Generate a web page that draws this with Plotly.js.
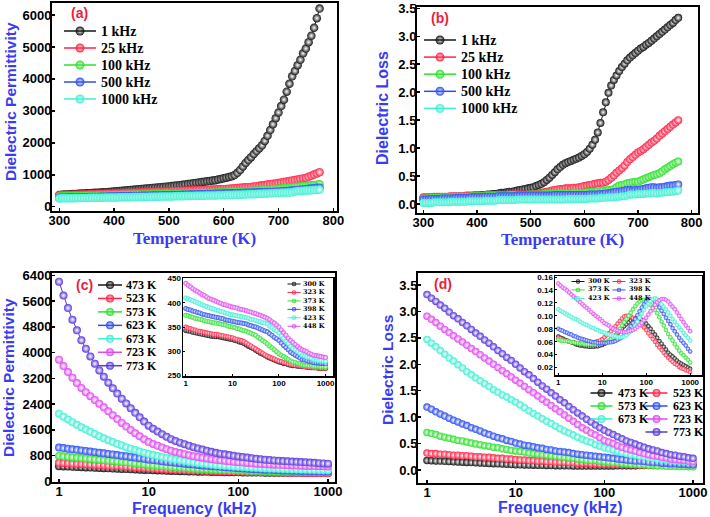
<!DOCTYPE html>
<html><head><meta charset="utf-8">
<script src="https://cdn.plot.ly/plotly-3.0.1.min.js"></script>
<style>html,body{margin:0;padding:0;background:#fff;overflow:hidden}</style>
</head><body>
<div id="plot" style="width:710px;height:517px"></div>
<script>
// ---------------- DATA ----------------
const temperatureK = [300,305,310,315,320,325,330,335,340,345,350,355,360,365,370,375,380,385,390,395,400,405,410,415,420,425,430,435,440,445,450,455,460,465,470,475,480,485,490,495,500,505,510,515,520,525,530,535,540,545,550,555,560,565,570,575,580,585,590,595,600,605,610,615,620,625,630,635,640,645,650,655,660,665,670,675,680,685,690,695,700,705,710,715,720,725,730,735,740,745,750,755,760,765,770,775];
const freqLabels = ['1 kHz','25 kHz','100 kHz','500 kHz','1000 kHz'];

// (a) dielectric permittivity vs temperature
const permA_1kHz = [370,375,380,385,390,395,400,405,410,415,420,425,430,435,440,445,450,455,460,468,476,484,492,500,508,516,524,532,540,548,556,564,572,580,588,596,604,612,620,628,636,645,655,665,675,686,698,710,722,734,746,758,770,782,794,806,818,830,850,870,890,910,930,955,990,1060,1150,1260,1370,1460,1550,1650,1740,1830,1920,2060,2220,2400,2580,2770,2950,3150,3350,3600,3850,4080,4250,4430,4600,4800,4950,5150,5350,5600,5900,6200];
const permA_25kHz = [360,363,365,368,370,373,375,378,380,383,385,388,390,393,395,398,400,403,405,408,410,414,417,421,424,428,431,435,438,442,445,449,452,456,459,463,466,470,473,477,480,484,487,491,494,498,501,505,508,512,515,519,522,526,529,533,536,540,543,547,550,557,564,571,578,585,592,599,606,613,620,632,644,656,668,680,692,704,716,728,740,756,772,788,804,820,836,852,868,884,900,935,970,1005,1040,1080];
const permA_100kHz = [320,322,324,326,328,330,332,334,336,338,340,342,344,346,348,350,352,354,356,358,360,362,364,366,368,370,372,374,376,378,380,382,384,386,388,390,392,394,396,398,400,403,405,408,410,413,415,418,420,423,425,428,430,433,435,438,440,443,445,448,450,454,458,462,466,470,474,478,482,486,490,497,504,511,518,525,532,539,546,553,560,569,578,587,596,605,614,623,632,641,650,660,670,680,690,705];
const permA_500kHz = [280,282,284,286,288,290,292,294,296,298,300,302,304,306,308,310,312,314,316,318,320,322,324,326,328,330,332,334,336,338,340,342,344,346,348,350,352,354,356,358,360,363,365,368,370,373,375,378,380,383,385,388,390,393,395,398,400,403,405,408,410,413,416,419,422,425,428,431,434,437,440,443,446,449,452,455,458,461,464,467,470,478,486,494,502,510,518,526,534,542,550,560,570,580,590,590];
const permA_1000kHz = [260,262,263,265,266,268,269,271,272,274,275,277,278,280,281,283,284,286,287,289,290,292,293,295,296,298,299,301,302,304,305,307,308,310,311,313,314,316,317,319,320,322,324,326,328,330,332,334,336,338,340,342,344,346,348,350,352,354,356,358,360,363,366,369,372,375,378,381,384,387,390,394,398,402,406,410,414,418,422,426,430,434,438,442,446,450,475,490,495,500,505,510,515,520,525,530];

// (b) dielectric loss vs temperature
const lossB_1kHz = [0.10,0.10,0.10,0.10,0.11,0.11,0.11,0.11,0.12,0.12,0.12,0.12,0.13,0.13,0.13,0.13,0.14,0.14,0.14,0.15,0.15,0.15,0.16,0.16,0.17,0.17,0.18,0.18,0.19,0.20,0.20,0.21,0.22,0.22,0.23,0.24,0.25,0.26,0.27,0.28,0.29,0.30,0.32,0.34,0.36,0.39,0.43,0.47,0.52,0.57,0.62,0.66,0.70,0.73,0.75,0.77,0.79,0.81,0.83,0.86,0.89,0.93,0.99,1.06,1.15,1.28,1.45,1.64,1.82,1.99,2.12,2.22,2.30,2.38,2.45,2.51,2.57,2.62,2.66,2.70,2.74,2.78,2.81,2.85,2.88,2.92,2.96,3.00,3.04,3.08,3.12,3.16,3.20,3.24,3.29,3.33];
const lossB_25kHz = [0.12,0.12,0.12,0.12,0.13,0.13,0.13,0.13,0.13,0.13,0.14,0.14,0.14,0.14,0.14,0.14,0.15,0.15,0.15,0.15,0.15,0.15,0.15,0.16,0.16,0.16,0.16,0.16,0.16,0.16,0.16,0.16,0.16,0.17,0.17,0.17,0.17,0.17,0.17,0.17,0.17,0.18,0.18,0.19,0.20,0.21,0.22,0.23,0.24,0.25,0.26,0.27,0.27,0.28,0.28,0.28,0.29,0.29,0.30,0.31,0.32,0.33,0.34,0.35,0.36,0.37,0.38,0.38,0.40,0.43,0.47,0.51,0.56,0.60,0.64,0.69,0.75,0.80,0.84,0.88,0.92,0.95,0.98,1.02,1.06,1.10,1.13,1.17,1.22,1.26,1.30,1.34,1.38,1.42,1.46,1.50];
const lossB_100kHz = [0.10,0.10,0.10,0.11,0.11,0.11,0.11,0.12,0.12,0.12,0.12,0.12,0.13,0.13,0.13,0.13,0.13,0.13,0.14,0.14,0.14,0.14,0.14,0.14,0.15,0.15,0.15,0.15,0.15,0.15,0.15,0.15,0.16,0.16,0.16,0.16,0.16,0.16,0.16,0.17,0.17,0.17,0.17,0.17,0.17,0.18,0.18,0.18,0.18,0.18,0.18,0.19,0.19,0.19,0.19,0.19,0.20,0.20,0.20,0.20,0.20,0.21,0.21,0.22,0.22,0.23,0.23,0.24,0.24,0.25,0.25,0.27,0.30,0.33,0.34,0.35,0.37,0.38,0.39,0.40,0.40,0.42,0.44,0.46,0.48,0.50,0.52,0.53,0.55,0.58,0.62,0.65,0.68,0.71,0.74,0.76];
const lossB_500kHz = [0.08,0.08,0.08,0.09,0.09,0.09,0.09,0.10,0.10,0.10,0.10,0.10,0.11,0.11,0.11,0.11,0.11,0.11,0.12,0.12,0.12,0.12,0.12,0.13,0.13,0.13,0.13,0.13,0.14,0.14,0.14,0.14,0.14,0.14,0.14,0.15,0.15,0.15,0.15,0.15,0.15,0.15,0.15,0.15,0.15,0.15,0.15,0.15,0.15,0.16,0.16,0.16,0.16,0.16,0.16,0.16,0.16,0.16,0.16,0.16,0.16,0.16,0.17,0.17,0.17,0.17,0.18,0.18,0.19,0.19,0.20,0.21,0.22,0.22,0.23,0.24,0.25,0.25,0.24,0.25,0.25,0.26,0.27,0.28,0.29,0.30,0.30,0.29,0.30,0.30,0.31,0.32,0.33,0.33,0.34,0.35];
const lossB_1000kHz = [0.02,0.02,0.02,0.02,0.03,0.03,0.03,0.03,0.03,0.03,0.04,0.04,0.04,0.04,0.04,0.04,0.04,0.05,0.05,0.05,0.05,0.05,0.05,0.06,0.06,0.06,0.06,0.06,0.07,0.07,0.07,0.07,0.07,0.07,0.07,0.08,0.08,0.08,0.08,0.08,0.08,0.08,0.08,0.08,0.08,0.08,0.08,0.08,0.08,0.08,0.08,0.08,0.08,0.08,0.09,0.09,0.09,0.09,0.09,0.09,0.09,0.09,0.10,0.10,0.10,0.10,0.11,0.11,0.11,0.12,0.12,0.12,0.13,0.13,0.14,0.14,0.15,0.17,0.17,0.17,0.18,0.18,0.18,0.19,0.19,0.20,0.20,0.19,0.20,0.20,0.21,0.21,0.22,0.22,0.23,0.24];

const frequencyKHz = [1,1.122,1.259,1.413,1.585,1.778,1.995,2.239,2.512,2.818,3.162,3.548,3.981,4.467,5.012,5.623,6.31,7.079,7.943,8.913,10,11.22,12.59,14.13,15.85,17.78,19.95,22.39,25.12,28.18,31.62,35.48,39.81,44.67,50.12,56.23,63.1,70.79,79.43,89.13,100,112.2,125.9,141.3,158.5,177.8,199.5,223.9,251.2,281.8,316.2,354.8,398.1,446.7,501.2,562.3,631,707.9,794.3,891.3,1000];
const highTempLabels = ['473 K','523 K','573 K','623 K','673 K','723 K','773 K'];
const lowTempLabels = ['300 K','323 K','373 K','398 K','423 K','448 K'];

// (c) dielectric permittivity vs frequency
const permC_473K = [470,464,458,452,446,440,434,428,422,416,410,404,398,392,386,380,374,368,362,356,350,345,340,335,330,325,321,317,313,309,305,302,299,296,293,290,288,286,284,282,280,278,277,275,274,272,271,270,269,268,267,266,265,265,264,263,262,262,261,261,260];
const permC_523K = [580,572,564,556,548,540,532,524,516,508,500,492,484,476,468,460,450,440,430,420,410,402,394,386,378,370,364,358,352,346,340,335,330,325,320,315,312,309,306,303,300,297,294,291,288,285,282,280,277,275,272,270,268,266,264,262,261,259,258,256,255];
const permC_573K = [790,776,762,748,734,720,708,696,684,672,660,646,632,618,604,590,574,558,542,526,510,498,486,474,462,450,440,430,420,410,400,393,386,379,372,365,360,355,350,345,340,336,332,328,324,320,317,314,311,308,305,302,300,297,295,292,290,288,287,285,283];
const permC_623K = [1050,1032,1014,996,978,960,942,924,906,888,870,852,834,816,798,780,760,740,720,700,680,662,644,626,608,590,576,562,548,534,520,508,496,484,472,460,450,440,430,420,410,402,394,386,378,370,364,358,352,346,340,336,332,328,324,320,317,314,311,308,305];
const permC_673K = [2100,2008,1921,1838,1757,1680,1608,1538,1470,1404,1340,1280,1223,1167,1113,1060,1015,972,930,889,850,818,787,757,728,700,677,655,633,611,590,573,557,541,525,510,498,487,476,465,455,447,439,431,423,415,409,403,397,391,385,381,377,373,369,365,362,359,356,353,350];
const permC_723K = [3780,3580,3395,3220,3055,2900,2770,2646,2526,2411,2300,2175,2053,1933,1815,1700,1596,1496,1400,1308,1220,1160,1104,1051,1000,950,913,878,844,811,780,756,733,711,690,670,654,639,624,609,595,583,572,561,550,540,533,526,519,512,505,500,495,490,485,480,477,474,471,468,465];
const permC_773K = [6200,5770,5380,5020,4690,4380,4120,3880,3655,3445,3250,3065,2890,2725,2568,2420,2270,2127,1990,1857,1730,1635,1547,1465,1386,1310,1254,1202,1153,1106,1060,1022,986,951,917,885,861,838,816,795,775,756,738,720,702,685,673,662,651,640,630,622,614,606,598,590,582,574,566,558,550];

// (c) inset
const permInset_300K = [343,342,341,339,338,337,336,335,334,333,332,331,331,330,330,329,328,327,326,325,324,322,321,319,318,316,313,310,308,305,302,299,296,294,291,288,286,284,282,280,278,277,275,274,272,271,270,270,269,269,268,268,267,267,266,266,266,265,265,265,265];
const permInset_323K = [350,348,347,345,344,342,341,340,339,338,337,336,335,335,334,333,332,331,330,329,328,326,325,323,322,320,317,314,311,308,305,302,299,296,293,290,288,286,284,282,280,279,277,276,274,273,272,271,271,270,269,268,268,267,267,266,266,266,265,265,265];
const permInset_373K = [374,373,371,370,368,367,366,365,363,362,361,360,359,358,357,356,355,354,352,351,350,349,347,346,344,343,341,339,337,335,333,329,326,322,319,315,311,307,303,299,295,292,289,286,283,280,278,277,275,274,272,271,271,270,270,269,269,269,268,268,268];
const permInset_398K = [388,386,385,383,382,380,379,377,376,374,373,372,371,370,369,368,367,365,364,363,362,361,360,359,358,357,356,354,353,351,350,348,346,344,342,340,336,333,329,326,322,317,312,308,303,298,295,292,289,286,283,282,281,279,278,277,276,276,275,275,274];
const permInset_423K = [410,408,406,404,402,400,398,396,394,392,390,388,387,385,384,382,381,379,378,376,375,374,373,372,371,370,369,368,366,365,364,362,361,359,358,356,352,349,345,342,338,332,327,321,316,310,306,303,299,296,292,290,288,287,285,283,282,281,281,280,279];
const permInset_448K = [440,436,433,429,426,423,420,417,415,412,409,407,405,403,401,399,397,396,394,393,391,390,389,387,386,385,384,382,381,379,378,376,374,372,370,368,365,361,358,354,350,344,338,333,327,322,318,314,310,306,303,301,299,296,294,292,291,290,289,288,287];

// (d) dielectric loss vs frequency
const lossD_473K = [0.18,0.176,0.172,0.168,0.164,0.16,0.156,0.152,0.148,0.144,0.14,0.136,0.132,0.128,0.124,0.12,0.116,0.112,0.108,0.104,0.10,0.098,0.096,0.094,0.092,0.09,0.088,0.086,0.084,0.082,0.08,0.079,0.078,0.077,0.076,0.075,0.075,0.075,0.075,0.075,0.075,0.076,0.077,0.078,0.079,0.08,0.081,0.082,0.083,0.084,0.085,0.086,0.087,0.088,0.089,0.09,0.09,0.09,0.09,0.09,0.09];
const lossD_523K = [0.32,0.31,0.31,0.30,0.30,0.29,0.28,0.28,0.27,0.27,0.26,0.25,0.25,0.24,0.24,0.23,0.22,0.22,0.21,0.21,0.20,0.19,0.19,0.18,0.18,0.17,0.17,0.16,0.16,0.15,0.15,0.15,0.14,0.14,0.13,0.13,0.13,0.12,0.12,0.11,0.11,0.11,0.105,0.105,0.10,0.10,0.10,0.095,0.095,0.09,0.09,0.09,0.09,0.09,0.09,0.09,0.09,0.09,0.09,0.09,0.09];
const lossD_573K = [0.71,0.69,0.67,0.64,0.62,0.60,0.58,0.56,0.55,0.53,0.51,0.49,0.48,0.46,0.45,0.43,0.42,0.40,0.39,0.37,0.36,0.35,0.34,0.32,0.31,0.30,0.29,0.28,0.27,0.26,0.25,0.24,0.23,0.22,0.21,0.20,0.19,0.18,0.18,0.17,0.16,0.15,0.14,0.14,0.13,0.12,0.11,0.11,0.10,0.10,0.09,0.09,0.08,0.08,0.07,0.07,0.07,0.065,0.065,0.06,0.06];
const lossD_623K = [1.19,1.15,1.10,1.06,1.02,0.98,0.94,0.91,0.87,0.84,0.80,0.77,0.74,0.70,0.67,0.64,0.61,0.59,0.56,0.54,0.51,0.49,0.47,0.46,0.44,0.42,0.41,0.39,0.38,0.36,0.35,0.34,0.33,0.31,0.30,0.29,0.28,0.27,0.26,0.25,0.24,0.23,0.22,0.21,0.20,0.19,0.18,0.17,0.17,0.16,0.15,0.14,0.14,0.13,0.13,0.12,0.12,0.11,0.11,0.10,0.10];
const lossD_673K = [2.47,2.40,2.33,2.26,2.19,2.12,2.06,1.99,1.93,1.86,1.80,1.74,1.69,1.63,1.58,1.52,1.47,1.42,1.38,1.33,1.28,1.23,1.18,1.12,1.07,1.02,0.97,0.92,0.88,0.83,0.78,0.74,0.70,0.66,0.62,0.58,0.55,0.52,0.48,0.45,0.42,0.40,0.38,0.35,0.33,0.31,0.29,0.28,0.26,0.25,0.23,0.22,0.21,0.20,0.19,0.18,0.17,0.17,0.16,0.16,0.15];
const lossD_723K = [2.91,2.85,2.79,2.72,2.66,2.60,2.54,2.48,2.42,2.36,2.30,2.24,2.18,2.12,2.06,2.00,1.94,1.88,1.82,1.76,1.70,1.64,1.58,1.52,1.46,1.40,1.34,1.28,1.22,1.16,1.10,1.04,0.98,0.92,0.86,0.80,0.75,0.70,0.66,0.61,0.56,0.53,0.50,0.46,0.43,0.40,0.38,0.36,0.33,0.31,0.29,0.27,0.26,0.24,0.23,0.21,0.20,0.19,0.18,0.17,0.16];
const lossD_773K = [3.32,3.25,3.19,3.12,3.06,2.99,2.92,2.86,2.79,2.73,2.66,2.59,2.53,2.46,2.40,2.33,2.26,2.20,2.13,2.07,2.00,1.93,1.86,1.80,1.73,1.66,1.59,1.53,1.46,1.40,1.33,1.27,1.20,1.14,1.08,1.02,0.96,0.91,0.85,0.80,0.75,0.71,0.67,0.63,0.59,0.55,0.52,0.49,0.46,0.43,0.40,0.38,0.36,0.33,0.31,0.29,0.28,0.26,0.25,0.23,0.22];

// (d) inset
const lossInset_300K = [0.068,0.066,0.065,0.063,0.062,0.060,0.059,0.058,0.056,0.055,0.054,0.054,0.053,0.053,0.052,0.052,0.052,0.053,0.053,0.054,0.055,0.057,0.059,0.061,0.063,0.066,0.070,0.073,0.077,0.080,0.084,0.087,0.090,0.093,0.095,0.096,0.097,0.096,0.094,0.091,0.088,0.084,0.080,0.075,0.071,0.066,0.061,0.057,0.052,0.048,0.043,0.040,0.037,0.034,0.031,0.028,0.026,0.024,0.022,0.020,0.018];
const lossInset_323K = [0.066,0.065,0.063,0.062,0.061,0.060,0.059,0.059,0.058,0.058,0.057,0.057,0.057,0.057,0.058,0.058,0.059,0.060,0.061,0.062,0.064,0.067,0.070,0.073,0.076,0.080,0.084,0.088,0.092,0.096,0.099,0.100,0.100,0.099,0.097,0.095,0.092,0.089,0.085,0.082,0.078,0.073,0.069,0.064,0.060,0.055,0.051,0.047,0.043,0.039,0.035,0.032,0.029,0.026,0.024,0.021,0.019,0.018,0.016,0.015,0.013];
const lossInset_373K = [0.063,0.062,0.062,0.061,0.061,0.060,0.059,0.059,0.058,0.058,0.057,0.057,0.056,0.056,0.056,0.056,0.056,0.056,0.057,0.057,0.058,0.059,0.060,0.062,0.064,0.066,0.070,0.075,0.080,0.085,0.090,0.095,0.100,0.105,0.110,0.115,0.119,0.122,0.124,0.125,0.124,0.121,0.117,0.113,0.109,0.104,0.098,0.091,0.085,0.078,0.072,0.067,0.062,0.056,0.051,0.046,0.042,0.039,0.035,0.032,0.028];
const lossInset_398K = [0.080,0.078,0.077,0.075,0.074,0.072,0.071,0.069,0.068,0.066,0.065,0.064,0.063,0.062,0.061,0.060,0.059,0.059,0.058,0.058,0.058,0.058,0.058,0.059,0.059,0.060,0.061,0.063,0.065,0.067,0.070,0.074,0.079,0.084,0.089,0.095,0.101,0.107,0.113,0.118,0.122,0.125,0.126,0.125,0.122,0.118,0.113,0.108,0.103,0.097,0.092,0.087,0.081,0.076,0.071,0.066,0.062,0.058,0.054,0.049,0.045];
const lossInset_423K = [0.110,0.108,0.106,0.104,0.102,0.100,0.098,0.096,0.095,0.093,0.091,0.089,0.087,0.086,0.084,0.082,0.081,0.079,0.078,0.076,0.075,0.074,0.072,0.071,0.070,0.069,0.068,0.067,0.067,0.067,0.068,0.070,0.073,0.076,0.080,0.085,0.091,0.097,0.103,0.109,0.115,0.119,0.123,0.126,0.127,0.125,0.122,0.118,0.114,0.110,0.105,0.100,0.095,0.091,0.086,0.082,0.078,0.074,0.070,0.066,0.062];
const lossInset_448K = [0.150,0.147,0.144,0.142,0.139,0.136,0.133,0.130,0.127,0.124,0.121,0.118,0.115,0.112,0.109,0.106,0.103,0.100,0.098,0.095,0.092,0.089,0.087,0.085,0.082,0.080,0.078,0.077,0.076,0.075,0.075,0.075,0.076,0.077,0.078,0.080,0.083,0.086,0.089,0.093,0.097,0.102,0.107,0.112,0.117,0.121,0.124,0.126,0.126,0.125,0.122,0.118,0.114,0.110,0.105,0.100,0.095,0.090,0.085,0.081,0.076];

const xTicksT = [300,400,500,600,700,800];
const yTicksPerm = [0,1000,2000,3000,4000,5000,6000];
const yTicksLoss = [0,0.5,1,1.5,2,2.5,3,3.5];
const yTicksPermC = [0,800,1600,2400,3200,4000,4800,5600,6400];
const xTicksF = [1,10,100,1000];
const yTicksInsetC = [250,300,350,400,450];
const yTicksInsetD = [0.02,0.04,0.06,0.08,0.10,0.12,0.14,0.16];

// ---------------- STYLE ----------------
const COL = {k:'#161616', r:'#ff2448', g:'#2fe02f', b:'#2e4ff0', c:'#3ef0d2', m:'#df4af0', p:'#5a38dc'};
const colors5 = [COL.k, COL.r, COL.g, COL.b, COL.c];
const colors7 = [COL.k, COL.r, COL.g, COL.b, COL.c, COL.m, COL.p];
const colors6 = [COL.k, COL.r, COL.g, COL.b, COL.c, COL.m];
const SANS = 'Liberation Sans, Arial, sans-serif';
const SERIF = 'Liberation Serif, Times New Roman, serif';
const WIDE_SERIF = 'DejaVu Serif, serif';
const TITLE_BLUE = '#3a3cf2';
const LABEL_RED = '#ee1c3a';

const traces = [];
function addSeries(x, ys, cols, ax, size) {
  ys.forEach((y, i) => traces.push({
    type:'scatter', mode:'lines+markers', x:x, y:y,
    xaxis:'x'+ax, yaxis:'y'+ax,
    line:{color:cols[i], width:1},
    marker:{color:cols[i], size:size, gradient:{type:'radial', color:'#ffffff'}, line:{width:0}},
    showlegend:false, hoverinfo:'skip'
  }));
}
addSeries(temperatureK, [permA_1kHz, permA_25kHz, permA_100kHz, permA_500kHz, permA_1000kHz], colors5, '', 8.5);
addSeries(temperatureK, [lossB_1kHz, lossB_25kHz, lossB_100kHz, lossB_500kHz, lossB_1000kHz], colors5, '2', 8);
addSeries(frequencyKHz, [permC_473K, permC_523K, permC_573K, permC_623K, permC_673K, permC_723K, permC_773K], colors7, '3', 8);
addSeries(frequencyKHz, [lossD_473K, lossD_523K, lossD_573K, lossD_623K, lossD_673K, lossD_723K, lossD_773K], colors7, '4', 7.5);
addSeries(frequencyKHz, [permInset_300K, permInset_323K, permInset_373K, permInset_398K, permInset_423K, permInset_448K], colors6, '5', 5);
addSeries(frequencyKHz, [lossInset_300K, lossInset_323K, lossInset_373K, lossInset_398K, lossInset_423K, lossInset_448K], colors6, '6', 4.5);

function axis(domain, range, o) {
  const inset = o.inset;
  const a = {
    domain:domain, range:range, showgrid:false, zeroline:false,
    showline:true, mirror:true, linecolor:'#000', linewidth: inset ? 1.5 : 2,
    ticks:'inside', ticklen: inset ? 2 : 3, tickwidth: inset ? 1 : 1.5, tickcolor:'#000',
    ticklabelstandoff: inset ? -1 : -4,
    tickfont:{family:SANS, size: inset ? 8 : 13, color:'#000', weight:'bold'},
    fixedrange:true, anchor:o.anchor
  };
  if (o.log) { a.type = 'log'; }
  if (o.tickvals) { a.tickmode = 'array'; a.tickvals = o.tickvals; a.ticktext = o.ticktext || o.tickvals.map(String); }
  return a;
}
const fmt = (arr, d) => arr.map(v => v.toFixed(d));

const W = 710, H = 517;
const px = (a, b) => [a / W, b / W];
const py = (top, bottom) => [1 - bottom / H, 1 - top / H];

const layout = {
  width:W, height:H, margin:{l:0, r:0, t:0, b:0},
  paper_bgcolor:'#ffffff', plot_bgcolor:'rgba(0,0,0,0)', showlegend:false,
  xaxis:  axis(px(52, 337), [286.7, 806.8], {anchor:'y', tickvals:xTicksT}),
  yaxis:  axis(py(3, 211), [-134, 6375], {anchor:'x', tickvals:yTicksPerm}),
  xaxis2: axis(px(417, 698), [288.2, 811.8], {anchor:'y2', tickvals:xTicksT}),
  yaxis2: axis(py(7, 213), [-0.161, 3.524], {anchor:'x2', tickvals:yTicksLoss, ticktext:fmt(yTicksLoss,1)}),
  xaxis3: axis(px(52, 335), [-0.078, 3.078], {anchor:'y3', log:true, tickvals:xTicksF}),
  yaxis3: axis(py(273, 482), [-20, 6470], {anchor:'x3', tickvals:yTicksPermC}),
  xaxis4: axis(px(418, 703), [-0.1015, 3.1128], {anchor:'y4', log:true, tickvals:xTicksF}),
  yaxis4: axis(py(273, 483), [-0.246, 3.727], {anchor:'x4', tickvals:yTicksLoss, ticktext:fmt(yTicksLoss,1)}),
  xaxis5: axis(px(183, 333), [-0.06, 3.16], {anchor:'y5', log:true, tickvals:xTicksF, inset:true}),
  yaxis5: axis(py(278, 376), [249, 451], {anchor:'x5', tickvals:yTicksInsetC, inset:true}),
  xaxis6: axis(px(555, 702), [-0.075, 3.27], {anchor:'y6', log:true, tickvals:xTicksF, inset:true}),
  yaxis6: axis(py(276, 375), [0.0085, 0.1616], {anchor:'x6', tickvals:yTicksInsetD, ticktext:fmt(yTicksInsetD,2), inset:true}),
  xaxis7: {domain:[0,1], range:[0,W], visible:false, fixedrange:true, anchor:'y7'},
  yaxis7: {domain:[0,1], range:[H,0], visible:false, fixedrange:true, anchor:'x7'},
  shapes:[], annotations:[]
};

// overlay (pixel) coordinates for titles and legends
function text(x, y, s, font, extra) {
  layout.annotations.push(Object.assign({xref:'x7', yref:'y7', x:x, y:y, text:s, showarrow:false,
    xanchor:'center', yanchor:'middle', font:font}, extra || {}));
}
const fTitleSans = (sz) => ({family:SANS, size:sz, color:TITLE_BLUE, weight:'bold'});
const fTitleSerif = (sz) => ({family:SERIF, size:sz, color:TITLE_BLUE, weight:'bold'});
const fLabel = {family:SANS, size:14, color:LABEL_RED, weight:'bold'};
const tight = {borderpad:0};

// axis titles
text(194, 238, 'Temperature (K)', fTitleSerif(17), tight);
text(562, 239, 'Temperature (K)', fTitleSerif(17), tight);
text(10, 102, 'Dielectric Permittivity', fTitleSans(15.5), {textangle:-90, borderpad:0});
text(382, 108, 'Dielectric Loss', fTitleSans(16), {textangle:-90, borderpad:0});
text(194, 508, 'Frequency (kHz)', fTitleSans(16), tight);
text(560, 507, 'Frequency (kHz)', fTitleSans(16), tight);
text(8, 378, 'Dielectric Permittivity', fTitleSans(15.5), {textangle:-90, borderpad:0});
text(387, 370, 'Dielectric Loss', fTitleSans(15.5), {textangle:-90, borderpad:0});
// panel labels
text(69, 13, '(a)', fLabel, {xanchor:'left'});
text(429, 18, '(b)', fLabel, {xanchor:'left'});
text(74, 285, '(c)', fLabel, {xanchor:'left'});
text(432, 284, '(d)', fLabel, {xanchor:'left'});

// legends: line + sphere marker + label; compact legends put each column's labels in one multi-line text
function legend(labels, cols, items, spec) {
  const mx = [], my = [], mc = [];
  const columns = {};
  labels.forEach((lab, i) => {
    const it = items[i];
    layout.shapes.push({type:'line', xref:'x7', yref:'y7', x0:it.x - spec.half, x1:it.x + spec.half, y0:it.y, y1:it.y,
      line:{color:cols[i], width:spec.lw}});
    mx.push(it.x); my.push(it.y); mc.push(cols[i]);
    if (spec.block) {
      (columns[it.x] = columns[it.x] || []).push({lab:lab, y:it.y});
    } else {
      text(it.x + spec.gap, it.y, lab, {family:spec.family || SERIF, size:spec.font, color:'#000', weight:'bold'}, {xanchor:'left'});
    }
  });
  Object.keys(columns).forEach(cx => {
    const rows = columns[cx];
    const yMid = (rows[0].y + rows[rows.length - 1].y) / 2;
    text(Number(cx) + spec.gap, yMid, rows.map(r => r.lab).join('<br>'),
      {family:spec.family || SERIF, size:spec.font, color:'#000', weight:'bold'}, {xanchor:'left', align:'left', borderpad:0});
  });
  traces.push({type:'scatter', mode:'markers', x:mx, y:my, xaxis:'x7', yaxis:'y7', cliponaxis:false,
    marker:{color:mc, size:spec.size, gradient:{type:'radial', color:'#ffffff'}, line:{width:0}},
    showlegend:false, hoverinfo:'skip'});
}
const col = (n, x, y0, dy) => Array.from({length:n}, (_, i) => ({x:x, y:y0 + i * dy}));
legend(freqLabels, colors5, col(5, 80, 31, 17), {half:16, gap:19, font:14, size:9, lw:1.5});
legend(freqLabels, colors5, col(5, 440, 40, 17.1), {half:16, gap:19, font:14, size:9, lw:1.5});
legend(highTempLabels, colors7, col(7, 110, 285, 13.45), {half:12, gap:14, font:12, size:8, lw:1.5});
const dItems = [[601.5,0],[656.5,0],[601.5,1],[656.5,1],[601.5,2],[656.5,2],[656.5,3]].map(p => ({x:p[0], y:393 + p[1] * 13}));
legend(highTempLabels, colors7, dItems, {half:11, gap:14, font:12, size:8, lw:1.5});
const INSET_FONT = 6.5, INSET_ROW = INSET_FONT * 1.3;
legend(lowTempLabels, colors6, col(6, 294, 284, INSET_ROW), {half:6.5, gap:8, font:INSET_FONT, size:4.5, lw:1, block:true, family:WIDE_SERIF});
const dInsetItems = [[578,0],[619,0],[578,1],[619,1],[578,2],[619,2]].map(p => ({x:p[0], y:281.5 + p[1] * INSET_ROW}));
legend(lowTempLabels, colors6, dInsetItems, {half:6.5, gap:9, font:INSET_FONT, size:4.5, lw:1, block:true, family:WIDE_SERIF});

Plotly.newPlot('plot', traces, layout, {staticPlot:true, displayModeBar:false});
</script>
</body></html>
